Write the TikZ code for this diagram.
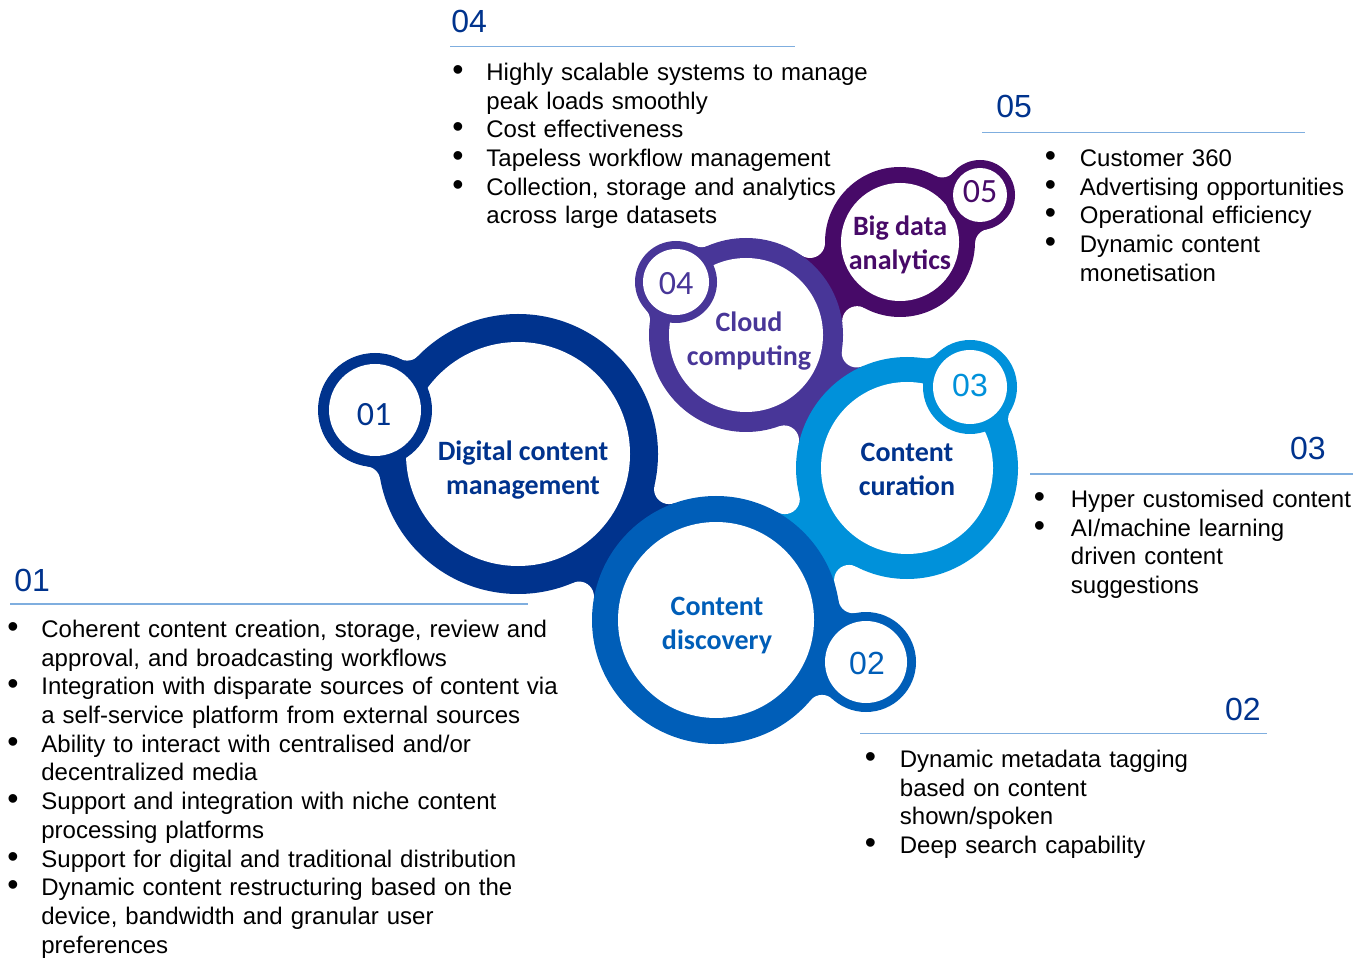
\documentclass[tikz,border=0pt]{standalone}
\usepackage{fontspec}
\setmainfont{Liberation Sans}
\newfontfamily\cfont{Carlito}
\usetikzlibrary{intersections}
\definecolor{kblue}{HTML}{00338D}
\definecolor{mblue}{HTML}{005EB8}
\definecolor{lblue}{HTML}{0091DA}
\definecolor{kpurple}{HTML}{483698}
\definecolor{kviolet}{HTML}{470A68}
\definecolor{rulec}{HTML}{7FAEDF}
\newlength{\bind}
\newcommand{\bul}{\leavevmode\makebox[\bind][l]{{\fontsize{16}{14.35}\selectfont\textbullet}}}
\newcommand{\hng}{\leavevmode\hspace*{\bind}}
% web between two rings: centre, radius (pt), centre, radius (pt), colour
\newcommand{\web}[5]{%
  \path[name path=wa] (#1) circle[radius=#2pt+7.5pt];
  \path[name path=wb] (#3) circle[radius=#4pt+7.5pt];
  \path[name intersections={of=wa and wb,by={wp,wq}}];
  \fill[#5] (#1) -- (wp) -- (#3) -- (wq) -- cycle;
  \fill[white] (wp) circle[radius=7.5pt] (wq) circle[radius=7.5pt];}
\tikzset{
  blist/.style={anchor=north west,inner sep=0pt,text width=#1,align=left,font=\fontsize{12}{14.35}\selectfont},
  ind/.style={execute at begin node={\setlength{\bind}{#1}\noindent\strut}},
  hdr/.style={inner sep=0pt,text=kblue,font=\fontsize{16}{19}\selectfont},
  rule/.style={rulec,line width=0.75pt},
  lbl/.style={inner sep=0pt,align=center,font=\cfont\bfseries\fontsize{14}{17}\selectfont},
  num/.style={inner sep=0pt,font=\cfont\fontsize{17}{20}\selectfont},
  numa/.style={inner sep=0pt,font=\fontsize{16}{19}\selectfont},
}

\begin{document}
\begin{tikzpicture}[x=0.5pt,y=-0.5pt]
\useasboundingbox (0,0) rectangle (1368,961);
% ring centres
\coordinate (c1) at (518,454); \coordinate (s1) at (375,410);
\coordinate (c2) at (716,620); \coordinate (s2) at (866,662);
\coordinate (c3) at (907,468); \coordinate (s3) at (970,387);
\coordinate (c4) at (746,335); \coordinate (s4) at (676,282);
\coordinate (c5) at (900,242); \coordinate (s5) at (980,195);
% webs
\web{c1}{70}{s1}{28.5}{kblue}
\web{c2}{62}{s2}{25}{mblue}
\web{c3}{55.5}{s3}{23.5}{lblue}
\web{c4}{48.5}{s4}{20.5}{kpurple}
\web{c5}{37.5}{s5}{17.5}{kviolet}
\web{c1}{70}{c2}{62}{kblue}
\web{c2}{62}{c3}{55.5}{lblue}
\web{c3}{55.5}{c4}{48.5}{kpurple}
\web{c4}{48.5}{c5}{37.5}{kviolet}
% rings
\fill[kblue] (c1) circle[radius=70pt]; \fill[white] (c1) circle[radius=56pt];
\fill[kblue] (s1) circle[radius=28.5pt]; \fill[white] (s1) circle[radius=23pt];
\fill[kpurple] (c4) circle[radius=48.5pt]; \fill[white] (c4) circle[radius=38.5pt];
\fill[kpurple] (s4) circle[radius=20.5pt]; \fill[white] (s4) circle[radius=16.5pt];
\fill[kviolet] (c5) circle[radius=37.5pt]; \fill[white] (c5) circle[radius=29.5pt];
\fill[kviolet] (s5) circle[radius=17.5pt]; \fill[white] (s5) circle[radius=13.5pt];
\fill[lblue] (c3) circle[radius=55.5pt]; \fill[white] (c3) circle[radius=43pt];
\fill[lblue] (s3) circle[radius=23.5pt]; \fill[white] (s3) circle[radius=18.5pt];
\fill[mblue] (c2) circle[radius=62pt]; \fill[white] (c2) circle[radius=49pt];
\fill[mblue] (s2) circle[radius=25pt]; \fill[white] (s2) circle[radius=20.5pt];
% ring labels
\node[lbl,text=kblue] (dcm) at (523,470) {Digital content\\management};
\node[lbl,text=mblue] (disc) at (717,626) {Content\\discovery};
\node[lbl,text=kblue] (cur) at (907,469) {Content\\curation};
\node[lbl,text=kpurple] (cloud) at (749,341) {Cloud\\computing};
\node[lbl,text=kviolet] (bda) at (900,245) {Big data\\analytics};
\node[num,text=kblue] (n1) at (374,415) {01};
\node[numa,text=mblue] (n2) at (867,663) {02};
\node[numa,text=lblue] (n3) at (970,385) {03};
\node[num,text=kpurple] (n4) at (676,284) {04};
\node[num,text=kviolet] (n5) at (980,192) {05};
% headings and rules
\node[hdr,anchor=base west] (h4) at (451,33) {04};
\draw[rule] (450,46.5) -- (795,46.5);
\node[hdr,anchor=base west] (h5) at (996,118) {05};
\draw[rule] (982,132.5) -- (1305,132.5);
\node[hdr,anchor=base east] (h3) at (1326,460) {03};
\draw[rule] (1030,474) -- (1353,474);
\node[hdr,anchor=base east] (h2) at (1261,720) {02};
\draw[rule] (860,733.5) -- (1267,733.5);
\node[hdr,anchor=base west] (h1) at (14,591) {01};
\draw[rule] (10,604) -- (528,604);
% bullet lists
\node[blist=220pt,ind=17pt] (l4) at (452,60) {%
  \bul Highly scalable systems to manage\\\hng peak loads smoothly\\
  \bul Cost effectiveness\\
  \bul Tapeless workflow management\\
  \bul Collection, storage and analytics\\\hng across large datasets};
\node[blist=162pt,ind=17.5pt] (l5) at (1044.5,146) {%
  \bul Customer 360\\
  \bul Advertising opportunities\\
  \bul Operational efficiency\\
  \bul Dynamic content\\\hng monetisation};
\node[blist=168pt,ind=18.5pt] (l3) at (1033.5,487) {%
  \bul Hyper customised content\\
  \bul AI/machine learning\\\hng driven content\\\hng suggestions};
\node[blist=182pt,ind=17.5pt] (l2) at (864.5,747) {%
  \bul Dynamic metadata tagging\\\hng based on content\\\hng shown/spoken\\
  \bul Deep search capability};
\node[blist=302pt,ind=17pt] (l1) at (7,617) {%
  \bul Coherent content creation, storage, review and\\\hng approval, and broadcasting workflows\\
  \bul Integration with disparate sources of content via\\\hng a self-service platform from external sources\\
  \bul Ability to interact with centralised and/or\\\hng decentralized media\\
  \bul Support and integration with niche content\\\hng processing platforms\\
  \bul Support for digital and traditional distribution\\
  \bul Dynamic content restructuring based on the\\\hng device, bandwidth and granular user\\\hng preferences};
\end{tikzpicture}
\end{document}
